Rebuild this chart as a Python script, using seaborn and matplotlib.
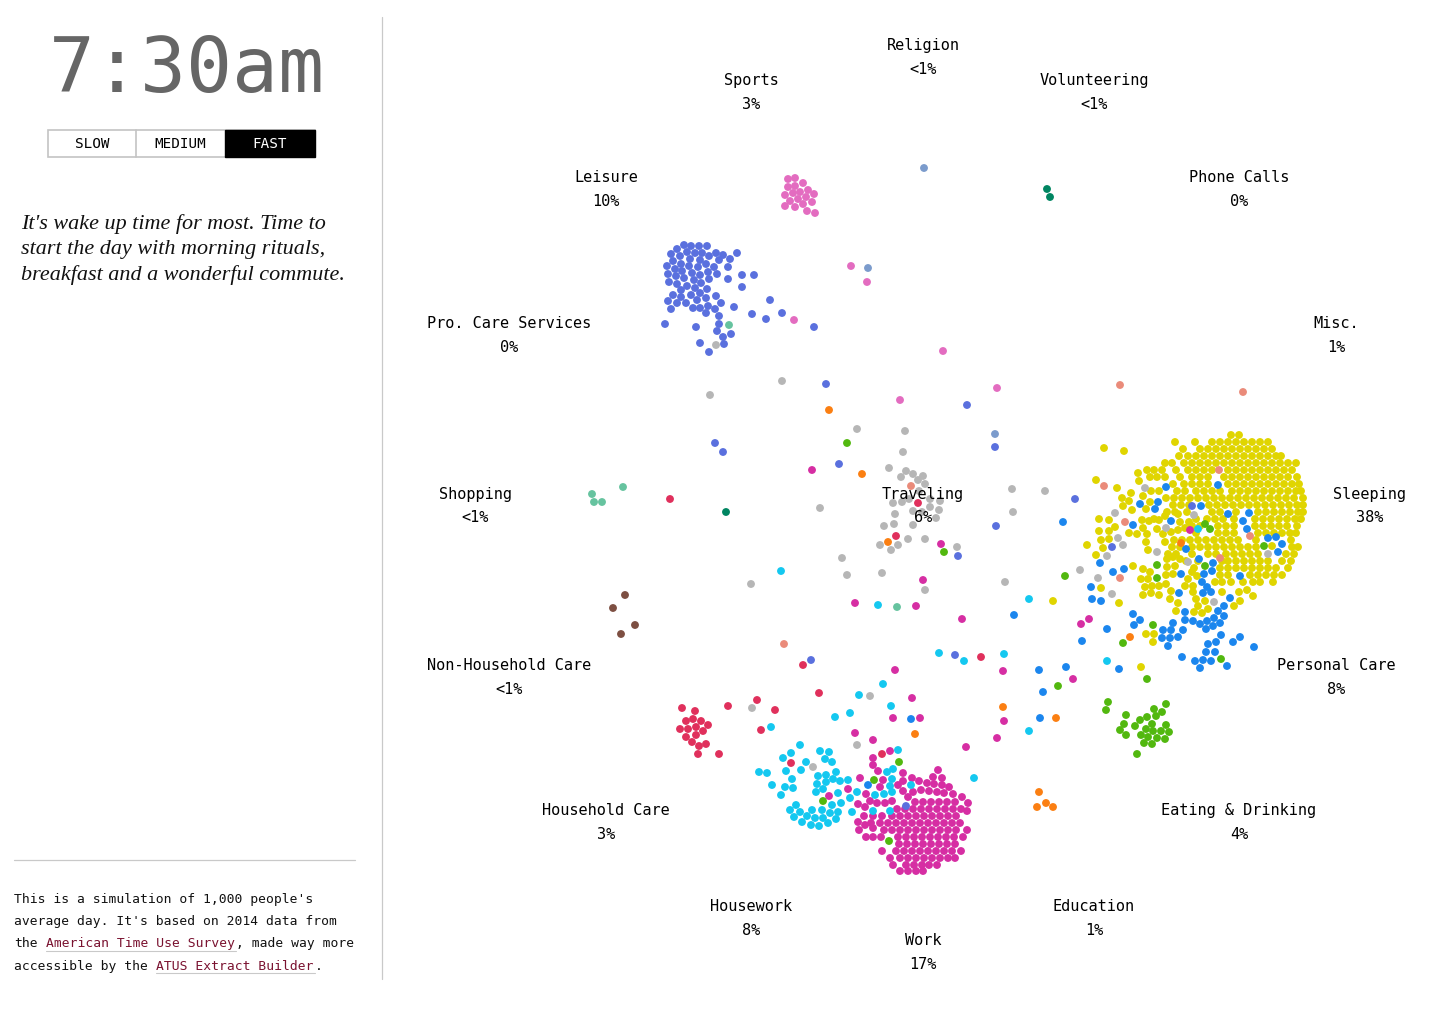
import matplotlib
matplotlib.use("Agg")
import matplotlib.pyplot as plt
from matplotlib.patches import Rectangle
import pandas as pd
import seaborn as sns

sns.set_style("white")

# dots, in picture pixels (x, y)
sleeping_rows = [
    (436, [1231, 1239]),
    (443, [1175, 1195, 1212, 1220, 1228, 1236, 1244, 1252, 1260, 1268]),
    (450, [1183, 1200, 1208, 1216, 1224, 1232, 1240, 1248, 1256, 1264, 1272]),
    (457, [1179, 1188, 1196, 1204, 1212, 1220, 1228, 1236, 1244, 1252, 1260, 1268, 1276, 1281]),
    (464, [1165, 1172, 1184, 1192, 1200, 1208, 1216, 1224, 1232, 1240, 1248, 1256, 1264, 1272, 1280, 1288, 1296]),
    (471, [1147, 1154, 1162, 1176, 1188, 1196, 1204, 1212, 1228, 1236, 1244, 1252, 1260, 1268, 1276, 1284, 1292]),
    (478, [1150, 1157, 1165, 1180, 1192, 1200, 1208, 1224, 1232, 1240, 1248, 1256, 1264, 1272, 1280, 1288, 1297]),
    (485, [1173, 1184, 1192, 1200, 1208, 1228, 1236, 1244, 1252, 1260, 1268, 1276, 1284, 1292, 1299]),
    (492, [1151, 1159, 1177, 1185, 1196, 1204, 1212, 1220, 1232, 1240, 1248, 1256, 1264, 1272, 1280, 1288, 1296, 1301]),
    (499, [1166, 1174, 1182, 1190, 1198, 1206, 1214, 1222, 1230, 1238, 1246, 1254, 1262, 1270, 1278, 1286, 1294, 1303]),
    (506, [1173, 1181, 1189, 1209, 1217, 1225, 1233, 1241, 1249, 1257, 1265, 1273, 1281, 1289, 1297, 1303]),
    (513, [1167, 1175, 1187, 1212, 1220, 1236, 1258, 1266, 1274, 1282, 1290, 1298, 1303]),
    (520, [1196, 1207, 1215, 1223, 1234, 1255, 1263, 1271, 1279, 1287, 1295, 1301]),
    (527, [1192, 1200, 1218, 1226, 1234, 1255, 1263, 1271, 1279, 1287, 1297]),
    (534, [1196, 1218, 1226, 1234, 1258, 1266, 1274, 1282, 1290, 1296]),
    (541, [1174, 1182, 1190, 1198, 1206, 1214, 1222, 1230, 1238, 1256, 1291]),
    (548, [1172, 1180, 1192, 1200, 1208, 1216, 1224, 1232, 1240, 1248, 1256, 1292, 1298]),
    (555, [1168, 1176, 1192, 1208, 1216, 1226, 1234, 1242, 1250, 1258, 1286, 1294]),
    (562, [1186, 1198, 1222, 1228, 1236, 1244, 1252, 1260, 1268, 1282, 1291]),
    (569, [1194, 1220, 1228, 1236, 1244, 1252, 1260, 1268, 1276, 1288]),
    (576, [1220, 1228, 1250, 1258, 1266, 1274, 1282]),
    (583, [1215, 1222, 1231, 1243, 1253, 1260, 1273]),
]
sleeping_extra = [
    (1104, 449), (1124, 452), (1096, 481), (1117, 489), (1087, 546), (1133, 567), (1101, 589), (1119, 604),
    (1176, 612), (1234, 607), (1146, 635), (1154, 635), (1153, 643), (1141, 668), (1053, 602), (1272, 547),
    (1099, 520), (1109, 521), (1115, 528), (1099, 532), (1109, 532), (1101, 541), (1109, 540), (1103, 549),
    (1096, 556), (1129, 534), (1137, 535), (1142, 521), (1149, 522), (1154, 520), (1143, 529), (1147, 535),
    (1157, 530), (1146, 543), (1148, 551), (1163, 535), (1165, 543), (1171, 533), (1178, 531), (1185, 529),
    (1180, 523), (1189, 523), (1178, 515), (1165, 517), (1159, 521),
    (1138, 474), (1139, 482), (1131, 494), (1122, 499), (1129, 502), (1123, 507), (1132, 511), (1143, 497),
    (1146, 510), (1150, 503), (1143, 570), (1150, 573), (1141, 580), (1148, 580), (1145, 588), (1152, 587),
    (1159, 587), (1166, 585), (1143, 596), (1151, 594), (1159, 596), (1171, 592), (1170, 600), (1178, 604),
    (1167, 560), (1173, 558), (1180, 560), (1167, 568), (1175, 567), (1166, 576), (1173, 575), (1192, 573),
    (1197, 577), (1188, 580), (1185, 587), (1193, 587), (1193, 593), (1196, 600), (1205, 602), (1198, 607),
    (1208, 610), (1194, 613), (1202, 614), (1222, 593), (1239, 593), (1247, 591), (1253, 597), (1240, 602),
]
sleeping = [(x, y) for y, xs in sleeping_rows for x in xs] + sleeping_extra

work_rows = [
    (803, [915, 923, 931, 939, 947, 955]),
    (810, [897, 905, 913, 921, 929, 937, 945, 953, 961]),
    (817, [882, 892, 900, 908, 916, 924, 932, 940, 948, 956]),
    (824, [880, 888, 896, 904, 912, 920, 928, 936, 944, 952, 960]),
    (831, [884, 892, 900, 908, 916, 924, 932, 940, 948, 956, 967]),
    (838, [866, 873, 881, 898, 906, 914, 922, 930, 938, 946, 954, 963]),
    (845, [899, 907, 915, 923, 931, 939, 947, 955]),
    (852, [882, 896, 904, 912, 920, 928, 936, 944, 952, 961]),
    (859, [890, 900, 908, 916, 924, 932, 940, 948, 955]),
    (866, [893, 906, 914, 922, 929, 937]),
    (872, [900, 908, 916, 923]),
]
work_extra = [
    (938, 771), (903, 774), (933, 778), (942, 779), (912, 779), (903, 782), (919, 782), (927, 784), (934, 785),
    (942, 786), (949, 788), (898, 786), (903, 792), (921, 791), (929, 792), (937, 793), (944, 794), (953, 795),
    (962, 798), (968, 804), (913, 793), (908, 798), (892, 802), (885, 804), (877, 804), (870, 802),
    (858, 805), (865, 808), (967, 812), (873, 817), (864, 817), (858, 823), (871, 824), (859, 831), (873, 829), (865, 826),
    (855, 734), (873, 741), (890, 752), (873, 759), (873, 766), (878, 772), (860, 779), (883, 781), (880, 788),
    (848, 790), (866, 795), (829, 797), (966, 748), (895, 671), (912, 699), (920, 719), (893, 719),
    (855, 604), (923, 581), (916, 607), (962, 620), (941, 545), (812, 471), (1003, 672), (1004, 722), (997, 739),
    (1073, 680), (1081, 625), (1089, 620), (1190, 531),
]
work = [(x, y) for y, xs in work_rows for x in xs] + work_extra

housework = [
    (800, 746), (791, 754), (783, 759), (820, 752), (829, 753), (825, 760), (832, 763), (806, 763), (801, 771),
    (786, 772), (759, 773), (767, 774), (772, 786), (792, 780), (785, 788), (793, 789), (781, 796), (836, 773),
    (826, 776), (818, 777), (833, 780), (826, 783), (817, 785), (823, 790), (816, 793), (840, 782), (848, 781),
    (838, 794), (850, 799), (857, 793), (841, 804), (832, 806), (796, 806), (790, 811), (800, 813), (812, 811),
    (822, 811), (838, 813), (852, 813), (830, 814), (807, 817), (794, 818), (823, 819), (815, 819), (836, 820),
    (802, 823), (828, 824), (811, 826), (819, 827), (898, 751), (893, 770), (887, 773), (892, 780), (890, 787),
    (911, 786), (892, 793), (884, 795), (875, 796), (873, 812), (890, 812), (974, 779), (771, 728), (835, 718),
    (850, 714), (859, 696), (883, 685), (891, 707), (939, 654), (964, 662), (1004, 655), (1029, 732), (1107, 662),
    (781, 572), (878, 606), (1029, 600), (1198, 530),
]
personal_care = [
    (1140, 505), (1158, 503), (1155, 510), (1166, 488), (1218, 486), (1201, 507), (1228, 515), (1249, 514),
    (1243, 522), (1247, 530), (1171, 522), (1133, 526), (1268, 539), (1276, 538), (1282, 545), (1278, 553),
    (1186, 550), (1199, 560), (1213, 564), (1212, 572), (1204, 575), (1181, 575), (1202, 583), (1207, 588),
    (1211, 593), (1203, 594), (1179, 594), (1240, 577), (1230, 599), (1224, 607), (1218, 612), (1185, 613),
    (1224, 617), (1214, 619), (1207, 622), (1200, 625), (1193, 622), (1185, 621), (1220, 624), (1213, 627),
    (1206, 630), (1173, 624), (1183, 631), (1171, 631), (1163, 631), (1162, 639), (1170, 639), (1178, 638),
    (1168, 647), (1221, 636), (1216, 643), (1208, 645), (1215, 653), (1206, 653), (1182, 658), (1195, 662),
    (1203, 661), (1211, 662), (1200, 669), (1227, 667), (1240, 638), (1233, 643), (1254, 648), (1113, 573),
    (1124, 570), (1100, 564), (1091, 588), (1092, 600), (1101, 602), (1133, 615), (1140, 621), (1134, 626),
    (1107, 630), (1082, 642), (1066, 668), (1119, 670), (1063, 523), (1014, 616), (1039, 671), (1043, 693),
    (1040, 719), (868, 786), (911, 720),
]
leisure = [
    (684, 246), (691, 247), (699, 247), (707, 247), (677, 250), (671, 255), (687, 253), (695, 254), (702, 254),
    (716, 254), (723, 256), (737, 254), (680, 257), (709, 257), (690, 260), (700, 261), (719, 261), (730, 260),
    (673, 262), (681, 265), (689, 267), (698, 268), (706, 265), (714, 268), (728, 268), (667, 267), (675, 270),
    (682, 272), (692, 274), (700, 276), (708, 273), (717, 275), (668, 275), (676, 277), (684, 279), (694, 281),
    (709, 280), (728, 280), (742, 276), (754, 276), (742, 288), (669, 283), (677, 285), (687, 287), (701, 284),
    (695, 289), (707, 290), (681, 291), (673, 296), (681, 298), (691, 296), (700, 294), (706, 299), (716, 297),
    (668, 302), (677, 304), (686, 304), (697, 301), (721, 304), (671, 310), (693, 309), (700, 309), (708, 307),
    (715, 310), (706, 314), (734, 308), (770, 301), (719, 317), (752, 315), (782, 314), (766, 320), (665, 325),
    (696, 328), (719, 325), (814, 328), (717, 332), (731, 335), (723, 338), (700, 344), (724, 345), (709, 353),
    (826, 385), (967, 406), (995, 448), (715, 444), (723, 453), (839, 465), (958, 557), (996, 527), (1075, 500),
    (1192, 507), (1112, 548), (906, 807), (811, 661), (955, 656),
]
sports = [
    (788, 180), (795, 179), (803, 184), (788, 188), (795, 187), (808, 191), (793, 194), (800, 193), (785, 196),
    (814, 195), (798, 200), (806, 198), (790, 202), (812, 203), (803, 205), (785, 207), (795, 208), (807, 212),
    (815, 214), (851, 267), (867, 283), (794, 321), (943, 352), (900, 401), (997, 389),
]
traveling = [
    (857, 430), (905, 432), (903, 453), (889, 469), (901, 478), (906, 472), (913, 475), (923, 477), (918, 481),
    (925, 485), (893, 504), (902, 503), (909, 500), (919, 492), (930, 500), (940, 502), (895, 515), (913, 512),
    (930, 508), (939, 511), (936, 519), (922, 513), (894, 525), (884, 527), (913, 526), (908, 540), (925, 540),
    (880, 546), (898, 546), (891, 551), (957, 548), (820, 509), (842, 559), (847, 576), (882, 574), (925, 591),
    (1005, 583), (1012, 490), (1013, 513), (1045, 492), (782, 382), (710, 396), (716, 346), (751, 585), (752, 709),
    (870, 697), (857, 746), (813, 768), (1145, 489), (1115, 514), (1194, 516), (1166, 529), (1118, 539), (1123, 546),
    (1107, 557), (1157, 553), (1188, 563), (1080, 571), (1098, 579), (1112, 595), (1214, 603), (1268, 555),
]
eating = [
    (1108, 703), (1106, 711), (1126, 716), (1124, 725), (1120, 731), (1126, 736), (1135, 727), (1140, 721),
    (1147, 718), (1154, 710), (1166, 705), (1162, 713), (1156, 717), (1152, 725), (1166, 726), (1146, 730),
    (1153, 732), (1161, 732), (1169, 733), (1141, 736), (1148, 738), (1157, 739), (1165, 740), (1144, 744),
    (1152, 745), (1137, 755), (1147, 680), (1058, 687), (1205, 525), (1210, 530), (1264, 547), (1157, 566),
    (1205, 567), (1157, 579), (1065, 577), (1153, 626), (1123, 644), (1221, 660), (847, 444), (944, 553),
    (899, 763), (874, 781), (823, 802), (889, 842),
]
household_care = [
    (682, 709), (695, 712), (693, 720), (686, 722), (701, 722), (708, 726), (696, 728), (688, 730), (680, 730),
    (703, 732), (696, 736), (686, 738), (692, 743), (706, 745), (699, 747), (698, 755), (719, 755), (728, 707),
    (757, 701), (775, 711), (761, 731), (803, 666), (819, 694), (791, 764), (882, 755), (670, 500), (918, 504),
    (896, 537), (981, 658),
]
education = [
    (1039, 793), (1037, 808), (1046, 804), (1053, 808), (1003, 708), (1056, 719), (915, 735), (1130, 638),
    (1181, 544), (829, 411), (862, 475), (888, 543),
]
misc = [(1219, 471), (1104, 487), (1125, 523), (1250, 537), (1220, 559), (1120, 579), (1120, 386), (1243, 393), (784, 645), (911, 487)]
shopping = [(592, 495), (594, 503), (602, 503), (623, 488), (729, 326), (897, 608)]
non_household = [(625, 596), (613, 609), (635, 626), (621, 635)]
volunteering = [(1047, 190), (1050, 198), (726, 513)]
religion = [(924, 169), (868, 269), (995, 435)]

# paint order matters, the big clusters go underneath
groups = [
    ("Sleeping", sleeping, "#e0d500"),
    ("Work", work, "#d62ea3"),
    ("Housework", housework, "#14c8f0"),
    ("Leisure", leisure, "#5a70de"),
    ("Sports", sports, "#e36cc0"),
    ("Traveling", traveling, "#b6b6b6"),
    ("Eating", eating, "#52b80f"),
    ("Personal Care", personal_care, "#1b86ee"),
    ("Household Care", household_care, "#e0305c"),
    ("Education", education, "#fb7f12"),
    ("Misc", misc, "#ea8b7a"),
    ("Shopping", shopping, "#66c39f"),
    ("Non-Household", non_household, "#7d4f42"),
    ("Volunteering", volunteering, "#008561"),
    ("Religion", religion, "#7b9bcc"),
]

label_names = ["Religion", "Sports", "Volunteering", "Leisure", "Phone Calls", "Pro. Care Services", "Misc.",
               "Shopping", "Traveling", "Sleeping", "Non-Household Care", "Personal Care", "Household Care",
               "Eating & Drinking", "Housework", "Education", "Work"]
label_pcts = ["<1%", "3%", "<1%", "10%", "0%", "0%", "1%", "<1%", "6%", "38%", "<1%", "8%", "3%", "4%", "8%", "1%", "17%"]
label_x = [923, 751, 1094, 606, 1239, 509, 1336, 475, 923, 1370, 509, 1336, 606, 1239, 751, 1094, 923]
label_y = [45, 80, 80, 177, 177, 323, 323, 494, 494, 494, 665, 665, 811, 811, 907, 907, 941]

speeds = ["SLOW", "MEDIUM", "FAST"]

df = pd.concat([pd.DataFrame(pts, columns=["x", "y"]).assign(activity=name) for name, pts, _ in groups])
palette = {name: col for name, _, col in groups}

fig = plt.figure(figsize=(14.56, 10.12), dpi=100, facecolor="white")
ax = fig.add_axes([0, 0, 1, 1])
sns.scatterplot(data=df, x="x", y="y", hue="activity", palette=palette, s=32, linewidth=0, legend=False, ax=ax, zorder=2)
ax.set_xlim(0, 1456)
ax.set_ylim(1012, 0)
ax.axis("off")

mono = "DejaVu Sans Mono"
for name, pct, x, y in zip(label_names, label_pcts, label_x, label_y):
    ax.text(x, y, name, family=mono, fontsize=11, color="black", ha="center", va="center", zorder=5)
    ax.text(x, y + 24, pct, family=mono, fontsize=11, color="black", ha="center", va="center", zorder=5)

# left panel
ax.text(187, 71, "7:30am", family=mono, fontsize=55, color="#666666", ha="center", va="center")

ax.add_patch(Rectangle((48, 130.5), 267, 27, fc="white", ec="#c4c4c4", lw=1.2))
ax.add_patch(Rectangle((225, 130.5), 90, 27, fc="black", ec="black", lw=1, zorder=3))
ax.plot([136, 136], [130.5, 157.5], color="#c4c4c4", lw=1.2)
for word, x, col in zip(speeds, [92, 180, 270], ["black", "black", "white"]):
    ax.text(x, 144, word, family=mono, fontsize=10.3, color=col, ha="center", va="center", zorder=4)

story = ["It's wake up time for most. Time to", "start the day with morning rituals,", "breakfast and a wonderful commute."]
for line, y in zip(story, [224, 249, 275]):
    ax.text(21, y, line, family="Liberation Serif", style="italic", fontsize=15.9, color="#111111", ha="left", va="center")

ax.plot([382, 382], [18, 980], color="#c9c9c9", lw=0.9)
ax.plot([14, 355], [861, 861], color="#c9c9c9", lw=0.9)

link = "#7a1230"
foot = 9.4
ax.text(14, 900, "This is a simulation of 1,000 people's", family=mono, fontsize=foot, va="center", color="#111111")
ax.text(14, 922, "average day. It's based on 2014 data from", family=mono, fontsize=foot, va="center", color="#111111")
ax.text(14, 944, "the", family=mono, fontsize=foot, va="center", color="#111111")
ax.text(46, 944, "American Time Use Survey", family=mono, fontsize=foot, va="center", color=link)
ax.text(236, 944, ", made way more", family=mono, fontsize=foot, va="center", color="#111111")
ax.text(14, 967, "accessible by the", family=mono, fontsize=foot, va="center", color="#111111")
ax.text(156, 967, "ATUS Extract Builder", family=mono, fontsize=foot, va="center", color=link)
ax.text(315, 967, ".", family=mono, fontsize=foot, va="center", color="#111111")
ax.plot([46, 236], [952, 952], color="#c9c9c9", lw=0.8)
ax.plot([156, 315], [974, 974], color="#c9c9c9", lw=0.8)

fig.savefig("out.png", dpi=100, facecolor="white")
